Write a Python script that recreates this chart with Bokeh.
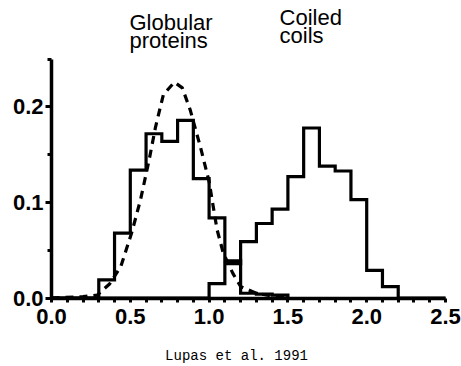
from bokeh.plotting import figure
from bokeh.models import FixedTicker, NumeralTickFormatter, Range1d
from bokeh.core.properties import value
from bokeh.embed import file_html
from bokeh.resources import INLINE

# ---- data ----
glob_edges = [0.3, 0.4, 0.5, 0.6, 0.7, 0.8, 0.9, 1.0, 1.1, 1.2, 1.3, 1.4, 1.5]
glob_freq = [0.019, 0.068, 0.134, 0.172, 0.164, 0.186, 0.125, 0.084, 0.039, 0.005, 0.004, 0.003]

coil_edges = [1.0, 1.1, 1.2, 1.3, 1.4, 1.5, 1.6, 1.7, 1.8, 1.9, 2.0, 2.1, 2.2]
coil_freq = [0.015, 0.036, 0.059, 0.078, 0.093, 0.127, 0.178, 0.138, 0.133, 0.103, 0.029, 0.012]

fit_x = [0.0, 0.2, 0.29, 0.37, 0.44, 0.51, 0.565, 0.62, 0.66, 0.71, 0.78, 0.83, 0.88,
         0.945, 1.0, 1.05, 1.09, 1.15, 1.2, 1.3, 1.4, 1.5]
fit_y = [0.0, 0.0015, 0.003, 0.015, 0.033, 0.069, 0.103, 0.145, 0.179, 0.213, 0.226, 0.220,
         0.197, 0.158, 0.122, 0.072, 0.047, 0.026, 0.012, 0.005, 0.002, 0.0]

x_major = [0.0, 0.5, 1.0, 1.5, 2.0, 2.5]
x_minor = [0.1, 0.2, 0.3, 0.4, 0.6, 0.7, 0.8, 0.9, 1.1, 1.2, 1.3, 1.4, 1.6, 1.7, 1.8, 1.9,
           2.1, 2.2, 2.3, 2.4]
y_major = [0.0, 0.1, 0.2]
y_minor = [0.05, 0.15, 0.25]

labels_glob = ["Globular", "proteins"]
labels_coil = ["Coiled", "coils"]
caption = ["Lupas et al. 1991"]

# ---- figure: the frame covers the whole canvas, axes sit at x=0 / y=0 ----
p = figure(width=461, height=366, output_backend="svg", toolbar_location=None,
           x_range=Range1d(-0.3236, 2.6015), y_range=Range1d(-0.0717, 0.3115),
           min_border=0)
p.outline_line_color = None
p.xgrid.visible = False
p.ygrid.visible = False
p.background_fill_color = "white"
p.border_fill_color = "white"

# histograms
gx = [0.0] + glob_edges
gy = [0.0] + glob_freq + [0.0]
cx = [0.0] + coil_edges + [2.5]
cy = [0.0] + coil_freq + [0.0, 0.0]
p.step(gx, gy, mode="after", line_color="black", line_width=3.2, line_join="miter")
p.step(cx, cy, mode="after", line_color="black", line_width=3.2, line_join="miter")
p.line(fit_x, fit_y, line_color="black", line_width=3.2, line_dash="8 6")

# axes
for ax in p.xaxis:
    ax.fixed_location = 0
    ax.bounds = (0, 2.5)
    ax.ticker = FixedTicker(ticks=x_major, minor_ticks=x_minor)
    ax.formatter = NumeralTickFormatter(format="0.0")
    ax.axis_line_width = 3.5
    ax.axis_line_color = "black"
    ax.major_tick_line_width = 3
    ax.minor_tick_line_width = 3
    ax.major_tick_out = 4
    ax.major_tick_in = 0
    ax.minor_tick_out = 4
    ax.minor_tick_in = 0
    ax.major_label_standoff = 7
    ax.major_label_text_font = "Liberation Sans"
    ax.major_label_text_font_style = "bold"
    ax.major_label_text_font_size = "22px"
    ax.major_label_text_color = "black"

for ax in p.yaxis:
    ax.fixed_location = 0
    ax.bounds = (0, 0.25)
    ax.ticker = FixedTicker(ticks=y_major, minor_ticks=y_minor)
    ax.formatter = NumeralTickFormatter(format="0.0")
    ax.axis_line_width = 3.5
    ax.axis_line_color = "black"
    ax.major_tick_line_width = 3
    ax.minor_tick_line_width = 3
    ax.major_tick_out = 6
    ax.major_tick_in = 0
    ax.minor_tick_out = 4
    ax.minor_tick_in = 0
    ax.major_label_standoff = 2
    ax.major_label_text_font = "Liberation Sans"
    ax.major_label_text_font_style = "bold"
    ax.major_label_text_font_size = "22px"
    ax.major_label_text_color = "black"

# annotations
p.text(x=[0.495, 0.495], y=[0.2885, 0.2692], text=labels_glob,
       text_font=value("Liberation Sans"), text_font_size="22px",
       text_align="left", text_baseline="alphabetic", text_color="black")
p.text(x=[1.447, 1.447], y=[0.2940, 0.2745], text=labels_coil,
       text_font=value("Liberation Sans"), text_font_size="22px",
       text_align="left", text_baseline="alphabetic", text_color="black")
p.text(x=[1.174], y=[-0.0612], text=caption,
       text_font=value("Liberation Mono"), text_font_size="14px",
       text_align="center", text_baseline="alphabetic", text_color="black")

open("out.html", "w").write(file_html(p, INLINE))
